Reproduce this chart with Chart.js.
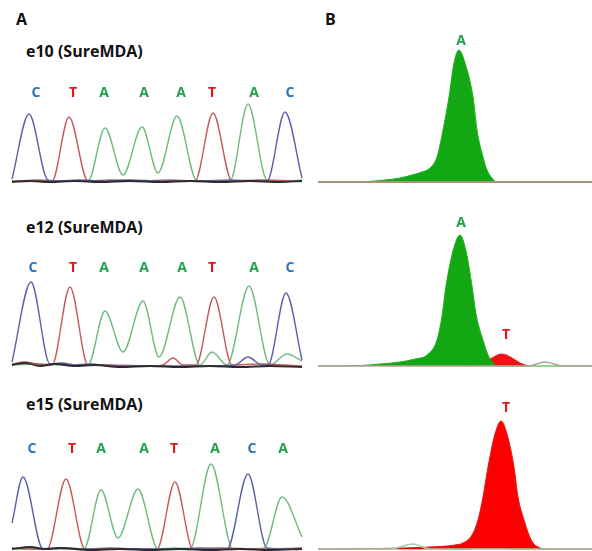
<!DOCTYPE html>
<html>
<head>
<meta charset="utf-8">
<script src="https://cdn.jsdelivr.net/npm/chart.js@4.4.1/dist/chart.umd.min.js"></script>
<style>
  body { margin: 0; width: 592px; height: 551px; overflow: hidden; background: #fff; position: relative; font-family: "Open Sans", sans-serif; }
  canvas { position: absolute; }
  .lbl { position: absolute; font-weight: bold; color: #111; white-space: nowrap; line-height: 1; }
</style>
</head>
<body>
<div class="lbl" style="left:16px; top:11px; font-size:16px;">A</div>
<div class="lbl" style="left:325px; top:11px; font-size:16px;">B</div>
<div class="lbl" style="left:26px; top:43px; font-size:16px;">e10 (SureMDA)</div>
<div class="lbl" style="left:26px; top:219px; font-size:16px;">e12 (SureMDA)</div>
<div class="lbl" style="left:26px; top:396px; font-size:16px;">e15 (SureMDA)</div>

<canvas id="a10" width="310" height="125" style="left:0; top:62px;"></canvas>
<canvas id="b10" width="282" height="155" style="left:310px; top:32px;"></canvas>
<canvas id="a12" width="310" height="125" style="left:0; top:247px;"></canvas>
<canvas id="b12" width="282" height="155" style="left:310px; top:216px;"></canvas>
<canvas id="a15" width="310" height="125" style="left:0; top:430px;"></canvas>
<canvas id="b15" width="282" height="155" style="left:310px; top:399px;"></canvas>

<script>
// trace points: [scan position, signal]
const e10C = [[12,3],[29,68],[48,2],[60,1],[80,2],[100,1],[130,2],[160,1],[200,1],[230,2],[255,1],[267,1],[285,70],[302,4]];
const e10T = [[12,1],[40,2],[52,1],[69,65],[88,1],[110,2],[140,1],[170,2],[195,1],[213,69],[232,1],[260,2],[302,1]];
const e10A = [[12,1],[60,1],[88,1],[105,54],[123,7],[142,55],[158,9],[177,66],[197,1],[215,1],[230,1],[248,78],[267,2],[285,1],[302,2]];
const e10G = [[12,0],[30,1],[50,0],[75,1],[100,0],[130,1],[160,0],[190,1],[220,0],[250,1],[280,0],[302,1]];
const e10Calls = ['C','T','A','A','A','T','A','C'];
const e10CallX = [36,73,104,144,181,212,254,290];

const e12C = [[12,5],[31,85],[50,3],[62,4],[75,2],[90,3],[110,1],[140,1],[170,1],[200,1],[235,2],[248,10],[262,2],[268,2],[286,74],[302,7]];
const e12T = [[12,3],[25,5],[38,3],[52,2],[70,80],[88,2],[110,2],[150,1],[163,2],[173,9],[183,2],[196,2],[214,70],[232,2],[260,3],[302,1]];
const e12A = [[12,2],[40,3],[70,2],[88,2],[105,56],[123,15],[143,66],[159,10],[180,70],[200,2],[212,15],[227,2],[249,81],[270,2],[287,13],[302,6]];
const e12G = [[12,2],[25,4],[40,1],[55,3],[75,1],[95,2],[120,0],[150,1],[180,0],[210,1],[240,0],[270,1],[302,0]];
const e12Calls = ['C','T','A','A','A','T','A','C'];
const e12CallX = [33,73,104,144,182,212,254,290];

const e15C = [[12,27],[23,73],[43,1],[60,2],[90,1],[130,1],[170,1],[200,2],[227,1],[248,76],[267,2],[290,1],[302,1]];
const e15T = [[12,2],[30,1],[47,1],[66,71],[85,1],[110,2],[140,1],[157,1],[175,68],[193,1],[220,2],[260,1],[302,2]];
const e15A = [[12,1],[60,1],[84,1],[101,60],[118,12],[138,61],[158,1],[175,2],[190,1],[211,86],[233,1],[250,1],[264,2],[282,53],[302,13]];
const e15G = [[12,1],[30,3],[45,1],[60,2],[90,0],[120,1],[150,0],[180,1],[210,0],[240,1],[270,0],[302,1]];
const e15Calls = ['C','T','A','A','T','A','C','A'];
const e15CallX = [32,72,101,144,174,215,252,283];

// zoomed single-position peaks (panel B)
const b10A = [[318,0],[367,0.5],[385,2],[400,4],[412,7],[422,10],[430,14],[437,25],[443,52],[449,85],[454,119],[459,132],[465,119],[473,85],[477,52],[483,25],[487,12],[492,4],[497,0],[592,0]];
const b10Base = [[318,0],[592,0]];
const b12A = [[318,0],[360,0.5],[380,2],[400,4],[415,7],[427,11],[437,26],[442,50],[446,80],[453,115],[460,131],[466,115],[472,80],[476,52],[483,26],[488,11],[493,3],[498,0],[592,0]];
const b12T = [[470,0],[480,2],[490,7],[502,12],[512,8],[520,3],[528,0]];
const b12N = [[318,0],[528,0],[545,4],[563,0],[592,0]];
const b15T = [[318,0],[380,0.5],[430,2],[455,4],[463,6],[472,14],[478,29],[483,52],[488,82],[495,115],[501,128],[507,115],[514,82],[518,52],[524,29],[529,14],[533,6],[538,2],[545,0],[592,0]];
const b15N = [[318,0],[470,0],[490,7],[510,0],[592,0]];
const b15G = [[318,0],[390,0],[413,5],[430,0],[592,0]];

const callColor = { A: '#22a04b', C: '#2e75b6', T: '#e8141c' };
const traceColor = { A: '#6fbd7d', C: '#5d5fa9', T: '#c25a5c', G: '#2b2b2b' };

const pts = arr => arr.map(p => ({ x: p[0], y: p[1] }));

const baseLabels = {
  id: 'baseLabels',
  afterDatasetsDraw(chart, args, opts) {
    if (!opts.letters) return;
    const ctx = chart.ctx;
    ctx.save();
    ctx.font = 'bold 14px "Open Sans", sans-serif';
    ctx.textAlign = 'center';
    ctx.textBaseline = 'middle';
    opts.letters.forEach((l, i) => {
      ctx.fillStyle = callColor[l];
      const y = Array.isArray(opts.y) ? opts.y[i] : opts.y;
      ctx.fillText(l, chart.scales.x.getPixelForValue(opts.xs[i]), chart.scales.y.getPixelForValue(y));
    });
    ctx.restore();
  }
};

function line(data, color, width, fillColor) {
  return {
    data: pts(data),
    borderColor: color,
    borderWidth: width,
    backgroundColor: fillColor || 'transparent',
    fill: fillColor ? 'origin' : false,
    cubicInterpolationMode: 'monotone',
    pointRadius: 0
  };
}

function draw(id, datasets, xr, yr, labels) {
  new Chart(document.getElementById(id), {
    type: 'line',
    data: { datasets },
    options: {
      responsive: false,
      animation: false,
      layout: { padding: 0 },
      plugins: { legend: { display: false }, tooltip: { enabled: false }, baseLabels: labels },
      scales: {
        x: { type: 'linear', display: false, min: xr[0], max: xr[1] },
        y: { display: false, min: yr[0], max: yr[1] }
      }
    },
    plugins: [baseLabels]
  });
}

const aX = [0, 310], aY = [-5, 120];
const bX = [310, 592], bY = [-5, 150];

function trace(C, T, A, G) {
  return [
    line(G, traceColor.G, 1.8),
    line(C, traceColor.C, 1.4),
    line(T, traceColor.T, 1.4),
    line(A, traceColor.A, 1.4)
  ];
}

draw('a10', trace(e10C, e10T, e10A, e10G), aX, aY, { letters: e10Calls, xs: e10CallX, y: 89 });
draw('a12', trace(e12C, e12T, e12A, e12G), aX, aY, { letters: e12Calls, xs: e12CallX, y: 99 });
draw('a15', trace(e15C, e15T, e15A, e15G), aX, aY, { letters: e15Calls, xs: e15CallX, y: 101 });

draw('b10', [
  line(b10Base, '#a8927a', 2),
  line(b10A, '#1fb01f', 1, '#13a813')
], bX, bY, { letters: ['A'], xs: [461], y: 141 });

draw('b12', [
  line(b12N, '#b8a09a', 1.6),
  line(b12A, '#1fb01f', 1, '#13a813'),
  line(b12T, '#f01010', 1, '#f41010')
], bX, bY, { letters: ['A', 'T'], xs: [461, 506], y: [143, 31] });

draw('b15', [
  line(b15G, '#9fcfb0', 1.4),
  line(b15T, '#f01010', 1, '#fa0000'),
  line(b15N, '#9a6a40', 1.2)
], bX, bY, { letters: ['T'], xs: [506], y: 141 });
</script>
</body>
</html>
